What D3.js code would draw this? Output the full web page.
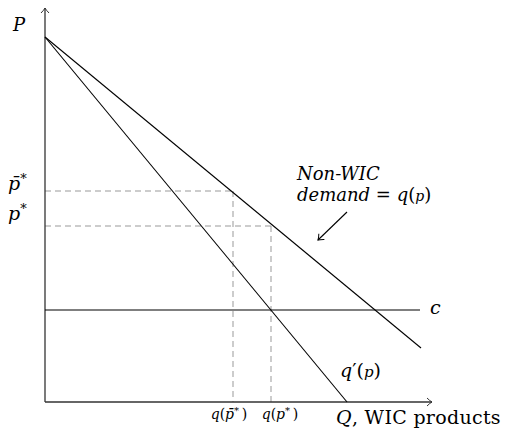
<!DOCTYPE html>
<html>
<head>
<meta charset="utf-8">
<script src="https://cdn.jsdelivr.net/npm/d3@7"></script>
<style>
  body { margin: 0; background: #fff; }
  text { font-family: "DejaVu Serif", "Liberation Serif", serif; fill: #000; }
  .it { font-style: italic; }
</style>
</head>
<body>
<svg id="chart"></svg>
<script>
const svg = d3.select("#chart")
    .attr("width", 511)
    .attr("height", 437);

// values, in chart units (Q across, P up)
const axisEnd = { q: 96.75, p: 98.5 };
const intercept = 91.25;                    // P where both curves start
const demand = [[0, intercept], [94, 13.5]];   // q(p)
const marginal = [[0, intercept], [75.5, 0]];  // q'(p)
const cost = 23;
const costEnd = 93.75;
const prices = [
    { name: "pbar", p: 52.75, q: 47 },
    { name: "p", p: 44, q: 56.5 }
];

// scales
const x = d3.scaleLinear().domain([0, 100]).range([45, 445]);
const y = d3.scaleLinear().domain([0, 100]).range([402, 2]);
const line = d3.line().x(d => x(d[0])).y(d => y(d[1]));

// arrow heads (open, tikz style)
const defs = svg.append("defs");
function marker(id, col) {
    defs.append("marker")
        .attr("id", id)
        .attr("viewBox", "-6 -5 8 10")
        .attr("refX", 0).attr("refY", 0)
        .attr("markerWidth", 8).attr("markerHeight", 10)
        .attr("markerUnits", "userSpaceOnUse")
        .attr("orient", "auto")
        .append("path")
        .attr("d", "M-5,-4 Q-2,-1 0,0 Q-2,1 -5,4")
        .attr("fill", "none")
        .attr("stroke", col)
        .attr("stroke-width", 1);
}
marker("ax", "#333");
marker("ar", "#000");

// dashed guides
const guides = svg.append("g")
    .attr("stroke", "#999")
    .attr("stroke-width", 1)
    .attr("stroke-dasharray", "6,4")
    .attr("fill", "none");
prices.forEach(d => {
    guides.append("path").attr("d", line([[0, d.p], [d.q, d.p]]));
    guides.append("path").attr("d", line([[d.q, d.p], [d.q, 0]]));
});

// axes
const axes = svg.append("g").attr("stroke", "#333").attr("stroke-width", 1.3);
axes.append("path").attr("d", line([[0, 0], [0, axisEnd.p]])).attr("marker-end", "url(#ax)");
axes.append("path").attr("d", line([[0, 0], [axisEnd.q, 0]])).attr("marker-end", "url(#ax)");

// curves
const curves = svg.append("g").attr("stroke", "#000").attr("stroke-width", 1.1).attr("fill", "none");
curves.append("path").attr("d", line(demand));
curves.append("path").attr("d", line(marginal));
curves.append("path").attr("d", line([[0, cost], [costEnd, cost]]));

// annotation arrow
curves.append("path")
    .attr("d", d3.line()([[347, 212], [318, 240]]))
    .attr("marker-end", "url(#ar)");

// labels
svg.append("text").attr("class", "it").attr("x", 13).attr("y", 31)
    .style("font-size", "18px").text("P");

function pLabel(bar, yy) {
    const t = svg.append("text").attr("x", 8).attr("y", yy).style("font-size", "19px");
    t.append("tspan").attr("class", "it").text(bar ? "p\u0304" : "p");
    t.append("tspan").attr("dy", -7).style("font-size", "13px").text("*");
}
pLabel(true, y(prices[0].p) - 1);
pLabel(false, y(prices[1].p) - 6);

svg.append("text").attr("class", "it").attr("x", 430).attr("y", y(cost) + 4)
    .style("font-size", "19px").text("c");

const qp = svg.append("text").attr("x", 340).attr("y", 377).style("font-size", "19px");
qp.append("tspan").attr("class", "it").text("q");
qp.append("tspan").text("\u2032(");
qp.append("tspan").attr("class", "it").style("font-size", "15px").text("p");
qp.append("tspan").text(")");

svg.append("text").attr("class", "it").attr("x", 297).attr("y", 180)
    .style("font-size", "18px").text("Non-WIC");
const dm = svg.append("text").attr("x", 297).attr("y", 201).style("font-size", "18px");
dm.append("tspan").attr("class", "it").text("demand");
dm.append("tspan").text(" = ");
dm.append("tspan").attr("class", "it").text("q");
dm.append("tspan").text("(");
dm.append("tspan").attr("class", "it").style("font-size", "14px").text("p");
dm.append("tspan").text(")");

function qLabel(bar, xx) {
    const t = svg.append("text").attr("x", xx).attr("y", 419)
        .attr("text-anchor", "middle").style("font-size", "14px");
    t.append("tspan").attr("class", "it").text("q");
    t.append("tspan").text("(");
    t.append("tspan").attr("class", "it").text(bar ? "p\u0304" : "p");
    t.append("tspan").attr("dy", -5).style("font-size", "10px").text("*");
    t.append("tspan").attr("dy", 5).text("\u2009)");
}
qLabel(true, x(prices[0].q) - 4);
qLabel(false, x(prices[1].q) + 9);

const ql = svg.append("text").attr("x", 336).attr("y", 424)
    .style("font-size", "19px").style("letter-spacing", "0.3px");
ql.append("tspan").attr("class", "it").text("Q");
ql.append("tspan").text(", WIC products");
</script>
</body>
</html>
